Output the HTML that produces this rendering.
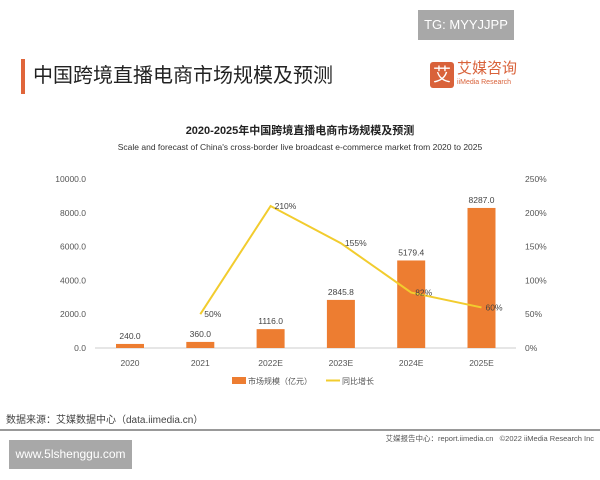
<!DOCTYPE html>
<html><head><meta charset="utf-8">
<style>
body{margin:0;background:#fff;width:600px;height:480px;overflow:hidden;position:relative;font-family:"Liberation Sans","Noto Sans CJK SC",sans-serif;}
.abs{position:absolute;}
</style></head><body>
<div class="abs" style="left:418px;top:10px;width:96px;height:30px;background:#a8a8a8;color:#fff;font-size:13px;line-height:30px;text-align:center;">TG: MYYJJPP</div>
<div class="abs" style="left:21px;top:59px;width:4px;height:35px;background:#e0653a;"></div>
<div class="abs" style="left:33px;top:62px;font-size:20px;color:#222;line-height:28px;">中国跨境直播电商市场规模及预测</div>
<div class="abs" style="left:430px;top:62px;width:24px;height:26px;background:#d9623a;border-radius:3px;color:#fff;font-size:18px;line-height:26px;text-align:center;">艾</div>
<div class="abs" style="left:457px;top:60px;font-size:15px;color:#d9623a;line-height:18px;">艾媒咨询</div>
<div class="abs" style="left:457px;top:79px;font-size:7px;color:#d9623a;">iiMedia Research</div>
<div class="abs" style="left:0;width:600px;top:122px;text-align:center;font-size:11px;font-weight:bold;color:#222;">2020-2025年中国跨境直播电商市场规模及预测</div>
<div class="abs" style="left:0;width:600px;top:142px;text-align:center;font-size:8.5px;color:#333;">Scale and forecast of China's cross-border live broadcast e-commerce market from 2020 to 2025</div>
<svg class="abs" style="left:0;top:0" width="600" height="480" id="chart"></svg>
<div class="abs" style="left:6px;top:411px;font-size:10px;color:#444;">数据来源：艾媒数据中心（data.iimedia.cn）</div>
<div class="abs" style="left:0;top:429px;width:600px;height:2px;background:#999;"></div>
<div class="abs" style="right:6px;top:433px;font-size:7.5px;color:#555;">艾媒报告中心：report.iimedia.cn &nbsp; ©2022 iiMedia Research Inc</div>
<div class="abs" style="left:9px;top:440px;width:123px;height:29px;background:#a8a8a8;color:#fff;font-size:12px;line-height:29px;text-align:center;">www.5lshenggu.com</div>
<script>
const categories=["2020","2021","2022E","2023E","2024E","2025E"];
const marketSize=[240.0,360.0,1116.0,2845.8,5179.4,8287.0];
const growth=[null,50,210,155,82,60];
const leftTicks=[0,2000,4000,6000,8000,10000];
const rightTicks=[0,50,100,150,200,250];
const svg=document.getElementById('chart');
const NS='http://www.w3.org/2000/svg';
const y0=348,y1=179,x0=95,step=70.3;
const xS=i=>x0+35+i*step;
const yL=v=>y0-(v/10000)*(y0-y1);
const yR=v=>y0-(v/250)*(y0-y1);
function mk(t,a,txt){const e=document.createElementNS(NS,t);for(const k in a)e.setAttribute(k,a[k]);if(txt!=null)e.textContent=txt;svg.appendChild(e);return e;}
leftTicks.forEach(v=>{const e=mk('text',{x:86,y:yL(v)+3,'text-anchor':'end','font-size':8.5,fill:'#555'},v.toFixed(1));

});
rightTicks.forEach(v=>{const e=mk('text',{x:525,y:yR(v)+3,'font-size':8.5,fill:'#555'},v+'%');

});
const ax=mk('line',{x1:x0,x2:516,y1:y0,y2:y0,stroke:'#ccc','stroke-width':1});


categories.forEach((c,i)=>{
const x=xS(i),v=marketSize[i];
const b=mk('rect',{x:x-14,y:yL(v),width:28,height:y0-yL(v),fill:'#ed7d31'});


const l=mk('text',{x:x,y:yL(v)-5,'text-anchor':'middle','font-size':8.5,fill:'#444'},v.toFixed(1));


const t=mk('text',{x:x,y:366,'text-anchor':'middle','font-size':8.5,fill:'#555'},c);


});
const pts=[];growth.forEach((g,i)=>{if(g!=null)pts.push([xS(i),yR(g),g]);});
const pl=mk('polyline',{points:pts.map(p=>p[0]+','+p[1]).join(' '),fill:'none',stroke:'#f2cc2e','stroke-width':2});


pts.forEach(p=>{const t=mk('text',{x:p[0]+4,y:p[1]+3,'font-size':8.5,fill:'#444'},p[2]+'%');

});
const lg1=mk('rect',{x:232,y:377,width:14,height:7,fill:'#ed7d31'});


const lt1=mk('text',{x:248,y:384,'font-size':8,fill:'#555'},'市场规模（亿元）');


const lg2=mk('line',{x1:326,x2:340,y1:380.5,y2:380.5,stroke:'#f2cc2e','stroke-width':2});


const lt2=mk('text',{x:342,y:384,'font-size':8,fill:'#555'},'同比增长');


</script>
</body></html>
